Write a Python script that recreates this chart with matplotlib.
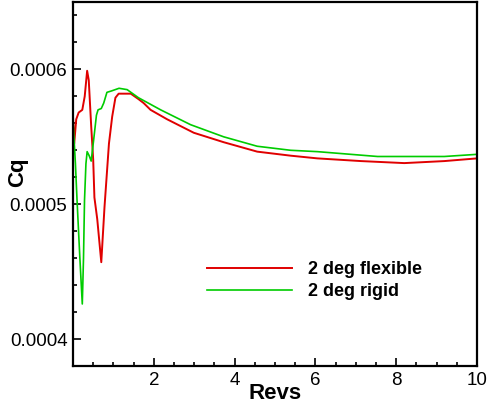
import matplotlib
matplotlib.use('Agg')
import matplotlib.pyplot as plt
from matplotlib.ticker import MultipleLocator, FormatStrFormatter

plt.rcParams['font.family'] = ['Liberation Sans', 'DejaVu Sans']

# torque coefficient history, 2 deg collective
revs_flex = [0.0, 0.03, 0.08, 0.14, 0.23, 0.29, 0.35, 0.39, 0.45, 0.50, 0.53, 0.60,
             0.70, 0.78, 0.89, 0.97, 1.05, 1.13, 1.43, 1.62, 1.75, 1.92, 2.33, 2.99,
             3.73, 4.56, 5.39, 6.05, 7.13, 8.2, 9.19, 10.0]
cq_flex = [5.65, 5.45, 5.63, 5.68, 5.70, 5.80, 5.99, 5.92, 5.58, 5.33, 5.05, 4.89,
           4.57, 4.98, 5.45, 5.65, 5.79, 5.82, 5.82, 5.78, 5.75, 5.70, 5.63, 5.53,
           5.46, 5.39, 5.36, 5.34, 5.32, 5.305, 5.32, 5.34]

revs_rigid = [0.0, 0.005, 0.06, 0.10, 0.17, 0.23, 0.26, 0.285, 0.32, 0.35, 0.40,
              0.45, 0.52, 0.58, 0.62, 0.70, 0.76, 0.84, 0.95, 1.14, 1.34, 1.62,
              2.17, 2.91, 3.73, 4.56, 5.39, 6.05, 7.54, 9.19, 10.0]
cq_rigid = [0.0, 5.60, 5.30, 5.03, 4.60, 4.26, 4.60, 5.03, 5.30, 5.39, 5.36,
            5.32, 5.50, 5.66, 5.70, 5.71, 5.75, 5.83, 5.84, 5.86, 5.85, 5.79,
            5.70, 5.59, 5.50, 5.43, 5.40, 5.39, 5.354, 5.354, 5.37]

scale = 1e-4
cq_flex = [v * scale for v in cq_flex]
cq_rigid = [v * scale for v in cq_rigid]

fig = plt.figure(figsize=(4.88, 4.08), dpi=100)
ax = fig.add_axes([73 / 488, 42 / 408, 404 / 488, 364 / 408])

ax.plot(revs_flex, cq_flex, color='#e00000', lw=1.4, label='2 deg flexible')
ax.plot(revs_rigid, cq_rigid, color='#00cc00', lw=1.2, label='2 deg rigid')

ax.set_xlim(0, 10)
ax.set_ylim(0.00038, 0.00065)
ax.set_xticks([2, 4, 6, 8, 10])
ax.xaxis.set_minor_locator(MultipleLocator(0.5))
ax.set_yticks([0.0004, 0.0005, 0.0006])
ax.yaxis.set_minor_locator(MultipleLocator(0.00002))
ax.yaxis.set_major_formatter(FormatStrFormatter('%.4f'))

ax.tick_params(which='both', direction='in', width=1.2, labelsize=13.5, pad=4)
ax.tick_params(which='major', length=6)
ax.tick_params(which='minor', length=3)
for s in ax.spines.values():
    s.set_linewidth(1.6)

ax.set_xlabel('Revs', fontsize=16, fontweight='bold')
ax.xaxis.set_label_coords(0.5, -0.047)
ax.xaxis.label.set_va('top')
ax.set_ylabel('Cq', fontsize=16, fontweight='bold')
ax.yaxis.set_label_coords(-0.111, 0.533)
ax.yaxis.label.set_va('bottom')

leg = ax.legend(loc='upper left', bbox_to_anchor=(0.332, 0.288), frameon=False,
                prop={'size': 13, 'weight': 'bold'}, handlelength=4.7,
                handletextpad=0.9, labelspacing=0.28, borderpad=0, borderaxespad=0)

fig.savefig('out.png', dpi=100)
